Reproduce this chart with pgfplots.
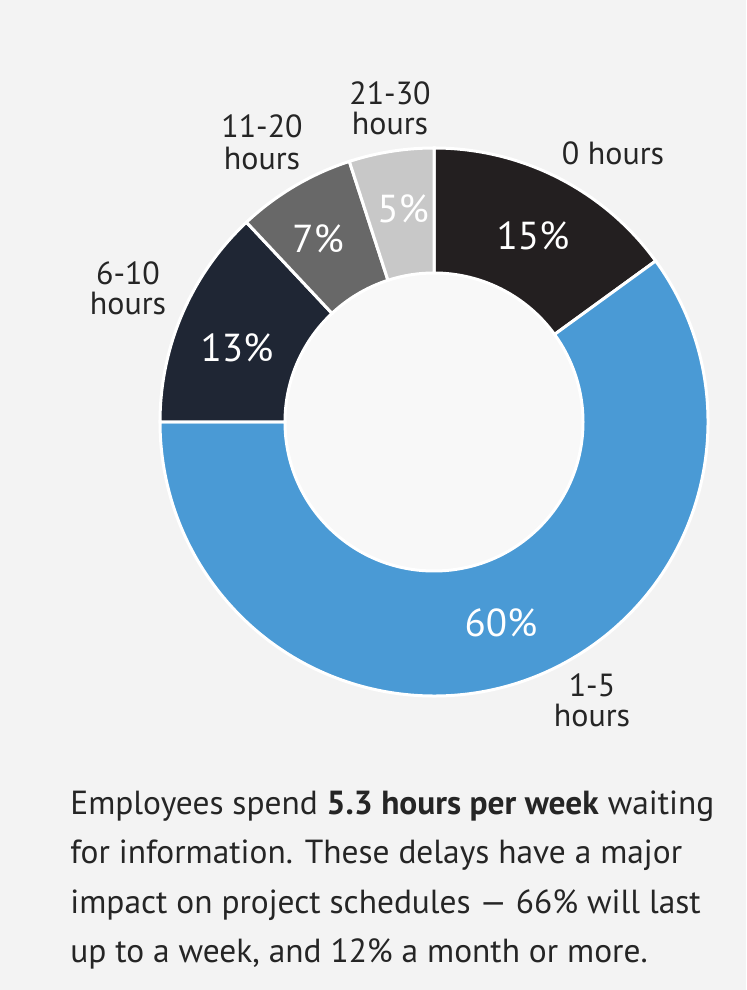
\documentclass[border=0pt]{standalone}
\usepackage{pgfplots}
\pgfplotsset{compat=1.18}
\usepackage{pgfplotstable}
\usepackage{fontspec}
\setmainfont{PT Sans}
\usetikzlibrary{calc}

\definecolor{bg}{HTML}{F3F3F3}
\definecolor{hole}{HTML}{F8F8F8}
\definecolor{cZero}{HTML}{231F20}
\definecolor{cOne}{HTML}{4A9AD5}
\definecolor{cSix}{HTML}{1F2634}
\definecolor{cEleven}{HTML}{686868}
\definecolor{cTwentyOne}{HTML}{C8C8C8}
\definecolor{txt}{HTML}{252525}

% share of employees by hours per week spent waiting (clockwise from top)
\pgfplotstableread{
slice pct
0hours 15
1-5hours 60
6-10hours 13
11-20hours 7
21-30hours 5
}\waiting

% canvas: 1 px of the reference = 0.5pt, donut centre at (434,568) px
\newcommand\Rout{137pt}
\newcommand\Rin{74.5pt}
\newcommand\slice[3]{%
  \fill[#1, draw=white, line width=1.5pt]
    ($(axis cs:434,568)+(#2:\Rout)$) arc[start angle=#2, end angle=#3, radius=\Rout]
    -- ($(axis cs:434,568)+(#3:\Rin)$) arc[start angle=#3, end angle=#2, radius=\Rin]
    -- cycle;}
\newcommand\lbl[3]{\node[anchor=base, txt, font=\fontsize{16}{17}\selectfont] at (axis cs:#1,#2) {#3};}
\newcommand\pct[3]{\node[anchor=base, white, font=\fontsize{19.5}{21}\selectfont] at (axis cs:#1,#2) {#3};}
\newcommand\capline[2]{\node[anchor=base west, txt, inner sep=0pt, font=\fontsize{16.7}{18}\selectfont] at (axis cs:70,#1) {#2};}

\begin{document}
\begin{tikzpicture}
  % cumulative angles, clockwise from 90 degrees
  \pgfplotstablegetelem{0}{pct}\of\waiting \pgfmathsetmacro\aA{90-3.6*\pgfplotsretval}
  \pgfplotstablegetelem{1}{pct}\of\waiting \pgfmathsetmacro\aB{\aA-3.6*\pgfplotsretval}
  \pgfplotstablegetelem{2}{pct}\of\waiting \pgfmathsetmacro\aC{\aB-3.6*\pgfplotsretval}
  \pgfplotstablegetelem{3}{pct}\of\waiting \pgfmathsetmacro\aD{\aC-3.6*\pgfplotsretval}
  \pgfplotstablegetelem{4}{pct}\of\waiting \pgfmathsetmacro\aE{\aD-3.6*\pgfplotsretval}
  \begin{axis}[
      width=373pt, height=495pt, scale only axis,
      xmin=0, xmax=746, ymin=0, ymax=990,
      hide axis, clip=false]
    \fill[bg] (axis cs:0,0) rectangle (axis cs:746,990);
    \fill[hole] (axis cs:434,568) circle[radius=\Rin];
    \slice{cZero}{90}{\aA}
    \slice{cOne}{\aA}{\aB}
    \slice{cSix}{\aB}{\aC}
    \slice{cEleven}{\aC}{\aD}
    \slice{cTwentyOne}{\aD}{\aE}

    \pct{533}{740}{15\%}
    \pct{501}{353}{60\%}
    \pct{237}{628}{13\%}
    \pct{318}{737}{7\%}
    \pct{403}{767}{5\%}

    \lbl{613}{825}{0 hours}
    \lbl{592}{293}{1-5}
    \lbl{592}{263}{hours}
    \lbl{128}{705}{6-10}
    \lbl{128}{675}{hours}
    \lbl{262}{852}{11-20}
    \lbl{262}{820}{hours}
    \lbl{390}{885}{21-30}
    \lbl{390}{855}{hours}

    \capline{175}{Employees spend \textbf{5.3 hours per week} waiting}
    \capline{126}{for information. These delays have a major}
    \capline{76}{impact on project schedules — 66\% will last}
    \capline{27}{up to a week, and 12\% a month or more.}
  \end{axis}
\end{tikzpicture}
\end{document}
